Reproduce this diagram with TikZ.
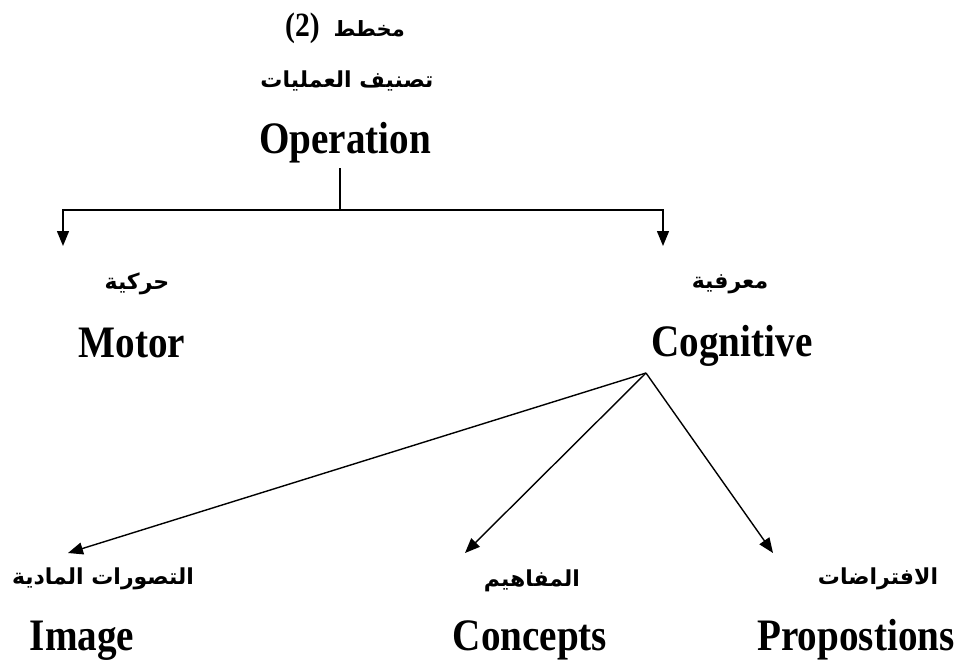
\documentclass[tikz,border=0pt]{standalone}
\usepackage{fontspec}
\setmainfont{Liberation Serif}
\newfontfamily\latfont{Liberation Serif}[FakeStretch=0.87]
\newfontfamily\arabicfont[Script=Arabic]{DejaVu Sans}
\TeXXeTstate=1
\usetikzlibrary{arrows.meta}
\tikzset{
  lat/.style={font=\fontsize{45}{50}\selectfont\latfont\bfseries, inner sep=0pt, anchor=base},
  ar/.style={font=\fontsize{22}{26}\selectfont\arabicfont\bfseries, inner sep=0pt},
  arr/.style={-{Triangle[length=15pt,width=12pt]}},
  conn/.style={line width=1.4pt}
}
\begin{document}
\begin{tikzpicture}[x=1pt,y=-1pt]
\useasboundingbox (0,0) rectangle (961,661);
\node[ar, anchor=base] (title) at (345,37) {{\fontsize{34}{38}\selectfont\latfont\bfseries (2)}\hspace{14pt}{\fontsize{21}{24}\selectfont\beginR مخطط\endR}};
\node[ar] (opar) at (347,81) {\beginR تصنيف العمليات\endR};
\node[lat] (op) at (345,153) {Operation};
\node[ar] (motar) at (137,284) {\beginR حركية\endR};
\node[lat] (mot) at (132,357) {Motor};
\node[ar] (cogar) at (730,284) {\beginR معرفية\endR};
\node[lat] (cog) at (732,356) {Cognitive};
\node[ar] (imgar) at (103,579) {\beginR التصورات المادية\endR};
\node[lat] (img) at (82,650) {Image};
\node[ar] (conar) at (532,581) {\beginR المفاهيم\endR};
\node[lat] (con) at (530,650) {Concepts};
\node[ar] (proar) at (878,579) {\beginR الافتراضات\endR};
\node[lat] (pro) at (856,650) {Propostions};
\coordinate (opb) at (340,168);
\coordinate (split) at (340,210);
\coordinate (mt) at (63,246);
\coordinate (ct) at (663,246);
\coordinate (apex) at (646,373);
\coordinate (it) at (68,553);
\coordinate (cot) at (465,553);
\coordinate (pt) at (773,553);
\draw[conn] (opb) -- (split);
\draw[conn,arr] (split) -| (mt);
\draw[conn,arr] (split) -| (ct);
\draw[conn,arr] (apex) -- (it);
\draw[conn,arr] (apex) -- (cot);
\draw[conn,arr] (apex) -- (pt);
\end{tikzpicture}
\end{document}
